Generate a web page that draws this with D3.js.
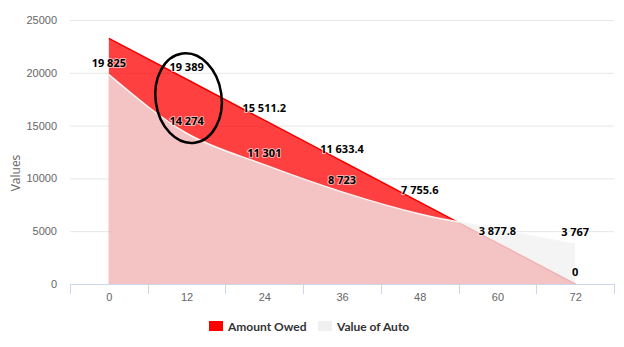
<!DOCTYPE html>
<html>
<head>
<meta charset="utf-8">
<script src="https://cdn.jsdelivr.net/npm/d3@7/dist/d3.min.js"></script>
<style>
  html, body { margin: 0; padding: 0; background: #fff; }
  svg { display: block; font-family: "Open Sans", "Noto Sans", sans-serif; }
</style>
</head>
<body>
<svg id="chart" width="624" height="347"></svg>
<script>
// ---- data ----
const months = [0, 12, 24, 36, 48, 60, 72];
const amountOwed = [23266.8, 19389, 15511.2, 11633.4, 7755.6, 3877.8, 0];
const valueOfAuto = [19825, 14274, 11301, 8723, 6630, 5200, 3767];
const showOwedLabel = [false, true, true, true, true, true, true];
const showValueLabel = [true, true, true, true, false, false, true];
const yTicks = [0, 5000, 10000, 15000, 20000, 25000];
const seriesNames = ["Amount Owed", "Value of Auto"];
const yTitle = "Values";

// ---- layout ----
const svg = d3.select("#chart");
const plot = { left: 70, right: 614, top: 20, bottom: 284 };
const step = 12;
const x = d3.scaleLinear()
  .domain([months[0] - step / 2, months[months.length - 1] + step / 2])
  .range([plot.left, plot.right]);
const y = d3.scaleLinear().domain([0, 25000]).range([plot.bottom, plot.top]);

const fmt = v => {
  const s = String(v);
  const [i, d] = s.split(".");
  const ii = i.replace(/\B(?=(\d{3})+(?!\d))/g, " ");
  return d ? ii + "." + d : ii;
};

// gridlines
svg.append("g").selectAll("line").data(yTicks.filter(t => t > 0)).join("line")
  .attr("x1", plot.left).attr("x2", plot.right)
  .attr("y1", d => y(d) + 0.5).attr("y2", d => y(d) + 0.5)
  .attr("stroke", "#e6e6e6").attr("stroke-width", 1);

// y axis labels
const yAxis = d3.axisLeft(y).tickValues(yTicks).tickSize(0).tickPadding(0).tickFormat(d3.format("d"));
const gy = svg.append("g").attr("transform", `translate(${plot.left - 13},0)`).call(yAxis);
gy.select(".domain").remove();
gy.selectAll("text").attr("fill", "#666").style("font-size", "11px");

// y title
svg.append("text")
  .attr("transform", `translate(20,${(plot.top + plot.bottom) / 2 + 21}) rotate(-90)`)
  .attr("text-anchor", "middle")
  .attr("fill", "#666").style("font-size", "12px")
  .text(yTitle);

// areas
const owedData = months.map((m, i) => ({ m, v: amountOwed[i] }));
const autoData = months.map((m, i) => ({ m, v: valueOfAuto[i] }));
const area = d3.area().x(d => x(d.m)).y0(y(0)).y1(d => y(d.v)).curve(d3.curveMonotoneX);
const line = d3.line().x(d => x(d.m)).y(d => y(d.v)).curve(d3.curveMonotoneX);

svg.append("path").datum(owedData).attr("d", area).attr("fill", "#ff0000").attr("fill-opacity", 0.75);
svg.append("path").datum(owedData).attr("d", line).attr("fill", "none").attr("stroke", "#f20000").attr("stroke-width", 1.5);
svg.append("path").datum(autoData).attr("d", area).attr("fill", "#f0f0f0").attr("fill-opacity", 0.75);
svg.append("path").datum(autoData).attr("d", line).attr("fill", "none").attr("stroke", "#f6f6f6").attr("stroke-width", 1.5);

// x axis
svg.append("line")
  .attr("x1", plot.left).attr("x2", plot.right)
  .attr("y1", plot.bottom + 0.5).attr("y2", plot.bottom + 0.5)
  .attr("stroke", "#ccd6eb");
const boundaries = months.map(m => m - step / 2).concat([months[months.length - 1] + step / 2]);
svg.append("g").selectAll("line").data(boundaries).join("line")
  .attr("x1", d => Math.round(x(d)) + 0.5).attr("x2", d => Math.round(x(d)) + 0.5)
  .attr("y1", plot.bottom).attr("y2", plot.bottom + 10)
  .attr("stroke", "#ccd6eb");
const xAxis = d3.axisBottom(x).tickValues(months).tickSize(0).tickPadding(0);
const gx = svg.append("g").attr("transform", `translate(0,${plot.bottom + 9})`).call(xAxis);
gx.select(".domain").remove();
gx.selectAll("text").attr("fill", "#666").style("font-size", "11px");

// data labels
function labels(data, show) {
  svg.append("g").selectAll("text").data(data.filter((d, i) => show[i])).join("text")
    .attr("x", d => x(d.m))
    .attr("y", d => y(d.v) - 8)
    .attr("text-anchor", "middle")
    .style("font-size", "11px").style("font-weight", "bold")
    .attr("fill", "#000")
    .attr("stroke", "#fff").attr("stroke-width", 2).attr("stroke-opacity", 0.6)
    .attr("stroke-linejoin", "round")
    .style("paint-order", "stroke")
    .text(d => fmt(d.v));
}
labels(owedData, showOwedLabel);
labels(autoData, showValueLabel);

// annotation ellipse
const ecx = x(12) + 2, ecy = y(17600);
svg.append("ellipse")
  .attr("cx", ecx).attr("cy", ecy)
  .attr("rx", 33).attr("ry", 45)
  .attr("transform", `rotate(-8,${ecx},${ecy})`)
  .attr("fill", "none").attr("stroke", "#000").attr("stroke-width", 2.5);

// legend
const legendColors = ["#ff0000", "#f0f0f0"];
const legendX = [209, 318];
const lg = svg.append("g");
seriesNames.forEach((name, i) => {
  lg.append("rect").attr("x", legendX[i]).attr("y", 321).attr("width", 14).attr("height", 10)
    .attr("fill", legendColors[i]);
  lg.append("text").attr("x", legendX[i] + 19).attr("y", 330.5)
    .attr("fill", "#333").style("font-size", "12px").style("font-weight", "bold")
    .style("font-family", "Lato, sans-serif")
    .text(name);
});
</script>
</body>
</html>
